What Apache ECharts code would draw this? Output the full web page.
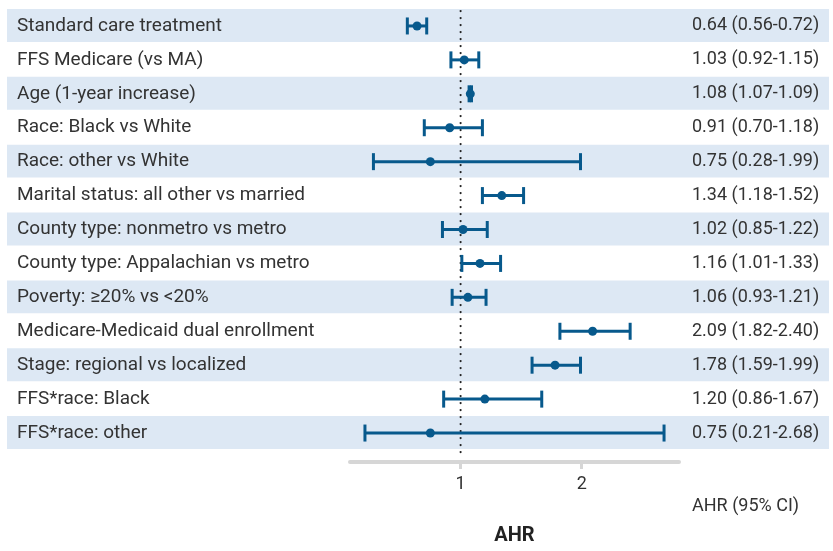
<!DOCTYPE html>
<html>
<head>
<meta charset="utf-8">
<script src="https://cdn.jsdelivr.net/npm/echarts@6/dist/echarts.min.js"></script>
<style>
html,body{margin:0;padding:0;background:#fff;}
#chart{width:833px;height:551px;}
</style>
</head>
<body>
<div id="chart"></div>
<script>
const labels = [
  "Standard care treatment",
  "FFS Medicare (vs MA)",
  "Age (1-year increase)",
  "Race: Black vs White",
  "Race: other vs White",
  "Marital status: all other vs married",
  "County type: nonmetro vs metro",
  "County type: Appalachian vs metro",
  "Poverty: \u226520% vs <20%",
  "Medicare-Medicaid dual enrollment",
  "Stage: regional vs localized",
  "FFS*race: Black",
  "FFS*race: other"
];
const estimates = [0.64, 1.03, 1.08, 0.91, 0.75, 1.34, 1.02, 1.16, 1.06, 2.09, 1.78, 1.20, 0.75];
const lower     = [0.56, 0.92, 1.07, 0.70, 0.28, 1.18, 0.85, 1.01, 0.93, 1.82, 1.59, 0.86, 0.21];
const upper     = [0.72, 1.15, 1.09, 1.18, 1.99, 1.52, 1.22, 1.33, 1.21, 2.40, 1.99, 1.67, 2.68];
const xTicks = [1, 2];
const refValue = 1;

const ciText = estimates.map((e, i) =>
  e.toFixed(2) + " (" + lower[i].toFixed(2) + "-" + upper[i].toFixed(2) + ")");

const lo = Math.min(...lower), hi = Math.max(...upper);
const pad = (hi - lo) * 0.05;
const xMin = lo - pad, xMax = hi + pad;

const BLUE = "#07598c";
const TEXT = "#333333";
const FONT = "Roboto";

const chart = echarts.init(document.getElementById('chart'), null, {renderer: 'canvas'});

const bandData = labels.map((l, i) => [xMin, i]).filter((d, i) => i % 2 === 0);
const barData = labels.map((l, i) => [lower[i], upper[i], estimates[i], i]);

chart.setOption({
  animation: false,
  textStyle: {fontFamily: FONT},
  grid: {left: 350, right: 154, top: 9, bottom: 96, containLabel: false},
  title: {
    text: "AHR (95% CI)",
    left: 692, top: 497, padding: 0,
    textStyle: {fontFamily: FONT, fontSize: 18, fontWeight: 'normal', color: TEXT}
  },
  xAxis: {
    type: 'value', min: xMin, max: xMax, offset: 12,
    name: 'AHR', nameLocation: 'middle', nameGap: 64,
    nameTextStyle: {fontFamily: FONT, fontSize: 20, fontWeight: 'bold', color: '#222'},
    axisLine: {show: true, lineStyle: {color: '#d6d6d6', width: 4}},
    axisTick: {show: true, customValues: xTicks, length: 7, lineStyle: {color: '#d6d6d6', width: 3}},
    axisLabel: {customValues: xTicks, color: TEXT, fontSize: 18, margin: 13, fontFamily: FONT},
    splitLine: {show: false}
  },
  yAxis: [{
    type: 'category', data: labels, inverse: true, position: 'left',
    axisLine: {show: false}, axisTick: {show: false}, splitLine: {show: false},
    axisLabel: {align: 'left', margin: 333, color: TEXT, fontSize: 19, fontFamily: FONT}
  }, {
    type: 'category', data: ciText, inverse: true, position: 'right',
    axisLine: {show: false}, axisTick: {show: false}, splitLine: {show: false},
    axisLabel: {align: 'left', margin: 13, color: TEXT, fontSize: 18, fontFamily: FONT}
  }],
  series: [{
    type: 'custom', name: 'bands', clip: false, z: 0, silent: true,
    yAxisIndex: 0,
    data: bandData,
    encode: {x: 0, y: 1},
    renderItem: function (params, api) {
      const c = api.coord([api.value(0), api.value(1)]);
      const h = api.size([0, 1])[1];
      return {
        type: 'rect',
        shape: {x: 7, y: c[1] - h / 2, width: api.getWidth() - 11, height: h - 1},
        style: {fill: '#dde8f4'}
      };
    }
  }, {
    type: 'custom', name: 'ref', clip: false, z: 1, silent: true,
    data: [[refValue, 0]],
    encode: {x: 0, y: 1},
    renderItem: function (params, api) {
      const cs = params.coordSys;
      const x = api.coord([api.value(0), 0])[0];
      return {
        type: 'line',
        shape: {x1: x, y1: cs.y + 2, x2: x, y2: cs.y + cs.height + 6},
        style: {stroke: '#222', lineWidth: 2.2, lineDash: [0.1, 6.9], lineCap: 'round'}
      };
    }
  }, {
    type: 'custom', name: 'AHR', clip: false, z: 2,
    data: barData,
    encode: {x: [0, 1, 2], y: 3},
    renderItem: function (params, api) {
      const row = api.value(3);
      const pL = api.coord([api.value(0), row]);
      const pH = api.coord([api.value(1), row]);
      const pE = api.coord([api.value(2), row]);
      const capH = 8.5;
      const ls = {stroke: BLUE, lineWidth: 3};
      return {
        type: 'group',
        children: [
          {type: 'line', shape: {x1: pL[0], y1: pL[1], x2: pH[0], y2: pH[1]}, style: ls},
          {type: 'line', shape: {x1: pL[0], y1: pL[1] - capH, x2: pL[0], y2: pL[1] + capH}, style: ls},
          {type: 'line', shape: {x1: pH[0], y1: pH[1] - capH, x2: pH[0], y2: pH[1] + capH}, style: ls},
          {type: 'circle', shape: {cx: pE[0], cy: pE[1], r: 4.5}, style: {fill: BLUE}}
        ]
      };
    }
  }]
});
</script>
</body>
</html>
